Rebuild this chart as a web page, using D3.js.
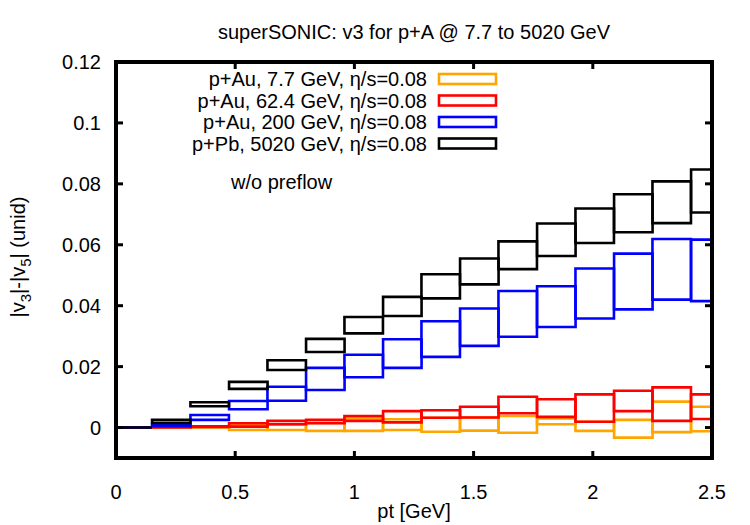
<!DOCTYPE html>
<html>
<head>
<meta charset="utf-8">
<script src="https://cdn.jsdelivr.net/npm/d3@7"></script>
<style>
    body { margin: 0; background: #fff; }
    text { font-family: "Liberation Sans", Arial, sans-serif; font-size: 20px; fill: #000; }
</style>
</head>
<body>
<div id="chart"></div>
<script>
// bin centres in pt (GeV) and bin width
var ptCenters = [0.070, 0.232, 0.393, 0.555, 0.716, 0.878, 1.039, 1.201, 1.362, 1.524, 1.685, 1.847, 2.008, 2.170, 2.331, 2.493];
var binWidth = 0.1615;

// lower / upper edge of each band
var auLow77 = [0, 0, 0, -0.0008, -0.0008, -0.0011, -0.0011, -0.0008, -0.0014, -0.0010, -0.0017, 0.0011, -0.0011, -0.0033, -0.0015, -0.0012];
var auHigh77 = [0, 0.0001, 0.0002, 0.0008, 0.0010, 0.0015, 0.0030, 0.0027, 0.0032, 0.0033, 0.0038, 0.0030, 0.0019, 0.0025, 0.0085, 0.0068];
var auLow624 = [0, 0, 0.0002, 0.0003, 0.0011, 0.0014, 0.0022, 0.0017, 0.0032, 0.0033, 0.0047, 0.0035, 0.0019, 0.0054, 0.0022, 0.0028];
var auHigh624 = [0, 0.0002, 0.0004, 0.0014, 0.0022, 0.0025, 0.0038, 0.0054, 0.0057, 0.0068, 0.0101, 0.0093, 0.0109, 0.0121, 0.0132, 0.0109];
var auLow200 = [0, 0.0004, 0.0025, 0.0060, 0.0088, 0.0123, 0.0165, 0.0196, 0.0232, 0.0268, 0.0298, 0.0330, 0.0358, 0.0388, 0.0420, 0.0415];
var auHigh200 = [0, 0.0009, 0.0041, 0.0087, 0.0134, 0.0196, 0.0239, 0.0290, 0.0349, 0.0391, 0.0448, 0.0464, 0.0522, 0.0571, 0.0619, 0.0617];
var pbLow5020 = [0, 0.0015, 0.0070, 0.0127, 0.0189, 0.0248, 0.0309, 0.0366, 0.0424, 0.0470, 0.0520, 0.0563, 0.0606, 0.0641, 0.0671, 0.0706];
var pbHigh5020 = [0, 0.0025, 0.0083, 0.0150, 0.0221, 0.0291, 0.0363, 0.0429, 0.0503, 0.0555, 0.0611, 0.0670, 0.0719, 0.0766, 0.0808, 0.0847];

var seriesNames = ["p+Au, 7.7 GeV, \u03b7/s=0.08", "p+Au, 62.4 GeV, \u03b7/s=0.08", "p+Au, 200 GeV, \u03b7/s=0.08", "p+Pb, 5020 GeV, \u03b7/s=0.08"];
var seriesColors = ["#ffa500", "#ff0000", "#0000ff", "#000000"];

var xTicks = [0, 0.5, 1, 1.5, 2, 2.5];
var yTicks = [0, 0.02, 0.04, 0.06, 0.08, 0.1, 0.12];

var width = 750;
var height = 525;
var margin = { top: 62, right: 38, bottom: 67, left: 116 };

var series = [
    { name: seriesNames[0], color: seriesColors[0], lo: auLow77, hi: auHigh77 },
    { name: seriesNames[1], color: seriesColors[1], lo: auLow624, hi: auHigh624 },
    { name: seriesNames[2], color: seriesColors[2], lo: auLow200, hi: auHigh200 },
    { name: seriesNames[3], color: seriesColors[3], lo: pbLow5020, hi: pbHigh5020 }
];

var x = d3.scaleLinear()
    .domain([0, 2.5])
    .range([margin.left, width - margin.right]);

var y = d3.scaleLinear()
    .domain([-0.01, 0.12])
    .range([height - margin.bottom, margin.top]);

var svg = d3.select("#chart")
    .append("svg")
    .attr("width", width)
    .attr("height", height);

svg.append("clipPath")
    .attr("id", "plot-clip")
    .append("rect")
    .attr("x", x(0))
    .attr("y", y(0.12))
    .attr("width", x(2.5) - x(0))
    .attr("height", y(-0.01) - y(0.12));

// title
svg.append("text")
    .attr("x", (x(0) + x(2.5)) / 2)
    .attr("y", 39)
    .attr("text-anchor", "middle")
    .text("superSONIC: v3 for p+A @ 7.7 to 5020 GeV");

// boxes (one rectangle per bin, lower to upper edge)
var bands = svg.append("g")
    .attr("clip-path", "url(#plot-clip)");

series.forEach(function(s) {
    var bins = ptCenters.map(function(c, j) {
        return { x0: c - binWidth / 2, x1: c + binWidth / 2, lo: s.lo[j], hi: s.hi[j] };
    });
    bands.append("g")
        .selectAll("path")
        .data(bins)
        .enter()
        .append("path")
        .attr("d", function(d) {
            var p = d3.path();
            p.rect(x(d.x0), y(d.hi), x(d.x1) - x(d.x0), y(d.lo) - y(d.hi));
            return p.toString();
        })
        .attr("fill", "none")
        .attr("stroke", s.color)
        .attr("stroke-width", 2.6);
});

// ticks, drawn inward on all four sides
var axisG = svg.append("g");
yTicks.forEach(function(t) {
    axisG.append("line")
        .attr("x1", x(0)).attr("x2", x(0) + 7)
        .attr("y1", y(t)).attr("y2", y(t));
    axisG.append("line")
        .attr("x1", x(2.5)).attr("x2", x(2.5) - 7)
        .attr("y1", y(t)).attr("y2", y(t));
    axisG.append("text")
        .attr("x", x(0) - 15)
        .attr("y", y(t) + 7)
        .attr("text-anchor", "end")
        .text(d3.format("")(t));
});
xTicks.forEach(function(t) {
    axisG.append("line")
        .attr("x1", x(t)).attr("x2", x(t))
        .attr("y1", y(-0.01)).attr("y2", y(-0.01) - 7);
    axisG.append("line")
        .attr("x1", x(t)).attr("x2", x(t))
        .attr("y1", y(0.12)).attr("y2", y(0.12) + 7);
    axisG.append("text")
        .attr("x", x(t))
        .attr("y", y(-0.01) + 41)
        .attr("text-anchor", "middle")
        .text(d3.format("")(t));
});
axisG.selectAll("line")
    .attr("stroke", "#000")
    .attr("stroke-width", 3);

// frame
svg.append("rect")
    .attr("x", x(0))
    .attr("y", y(0.12))
    .attr("width", x(2.5) - x(0))
    .attr("height", y(-0.01) - y(0.12))
    .attr("fill", "none")
    .attr("stroke", "#000")
    .attr("stroke-width", 4);

// axis labels
svg.append("text")
    .attr("x", (x(0) + x(2.5)) / 2)
    .attr("y", 518)
    .attr("text-anchor", "middle")
    .text("pt [GeV]");

var ylab = svg.append("text")
    .attr("transform", "translate(25,257) rotate(-90)")
    .attr("text-anchor", "middle");
ylab.append("tspan").text("|v");
ylab.append("tspan").attr("dy", 6).attr("font-size", "15px").text("3");
ylab.append("tspan").attr("dy", -6).text("|-|v");
ylab.append("tspan").attr("dy", 6).attr("font-size", "15px").text("5");
ylab.append("tspan").attr("dy", -6).text("| (unid)");

// legend
var legend = svg.append("g");
series.forEach(function(s, i) {
    var ly = 79 + i * 21.5;
    legend.append("text")
        .attr("x", 427)
        .attr("y", ly + 7)
        .attr("text-anchor", "end")
        .text(s.name);
    legend.append("rect")
        .attr("x", 439)
        .attr("y", ly - 5)
        .attr("width", 57)
        .attr("height", 10)
        .attr("fill", "none")
        .attr("stroke", s.color)
        .attr("stroke-width", 2.6);
});

svg.append("text")
    .attr("x", 231)
    .attr("y", 189)
    .text("w/o preflow");
</script>
</body>
</html>
